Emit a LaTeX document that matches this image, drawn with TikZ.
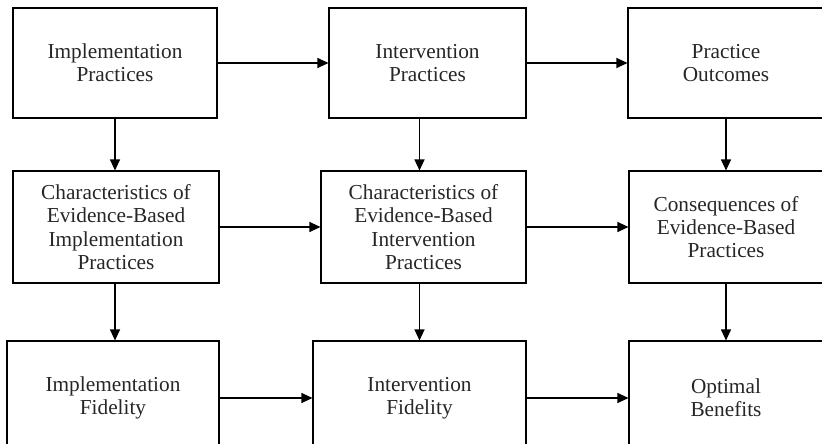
\documentclass[tikz,border=0pt]{standalone}
\usepackage{fontspec}
\setmainfont{Liberation Serif}
\usetikzlibrary{arrows.meta,positioning}

\begin{document}
\begin{tikzpicture}[x=1pt,y=-1pt,
        box/.style={draw,line width=1.1pt,align=center,inner sep=0pt,
            text=black!85,font=\fontsize{21.3}{23.3}\selectfont},
        arr/.style={line width=1.1pt,-{Triangle[length=11pt,width=10pt]}}]
    \useasboundingbox (0,0) rectangle (822,444);
    \clip (0,0) rectangle (822,444);

    % top row
    \node [box,minimum width=204pt,minimum height=110pt] (impl) at (115,63)
        {Implementation\\Practices};
    \node [box,minimum width=197pt,minimum height=110pt] (intv) at (427.5,63)
        {Intervention\\Practices};
    \node [box,minimum width=196pt,minimum height=110pt] (outc) at (726,63)
        {Practice\\Outcomes};

    % middle row
    \node [box,minimum width=206pt,minimum height=112pt] (charimpl) at (116,227)
        {Characteristics of\\Evidence-Based\\Implementation\\Practices};
    \node [box,minimum width=205pt,minimum height=112pt] (charintv) at (423.5,227)
        {Characteristics of\\Evidence-Based\\Intervention\\Practices};
    \node [box,minimum width=194pt,minimum height=112pt] (conseq) at (726,227)
        {Consequences of\\Evidence-Based\\Practices};

    % bottom row
    \node [box,minimum width=212pt,minimum height=114pt] (implfid) at (113,398)
        {Implementation\\Fidelity};
    \node [box,minimum width=213pt,minimum height=114pt] (intvfid) at (419.5,398)
        {Intervention\\Fidelity};
    \node [box,minimum width=194pt,minimum height=114pt] (benefit) at (726,398)
        {Optimal\\Benefits};

    % arrows across
    \draw [arr] (impl) -- (intv);
    \draw [arr] (intv) -- (outc);
    \draw [arr] (charimpl) -- (charintv);
    \draw [arr] (charintv) -- (conseq);
    \draw [arr] (implfid) -- (intvfid);
    \draw [arr] (intvfid) -- (benefit);

    % arrows down
    \draw [arr] (impl.south) -- (impl.south |- charimpl.north);
    \draw [arr] (charimpl.south -| impl.south) -- (implfid.north -| impl.south);
    \draw [arr] (intv.south -| intvfid.north) -- (charintv.north -| intvfid.north);
    \draw [arr] (charintv.south -| intvfid.north) -- (intvfid.north);
    \draw [arr] (outc) -- (conseq);
    \draw [arr] (conseq) -- (benefit);
\end{tikzpicture}
\end{document}
